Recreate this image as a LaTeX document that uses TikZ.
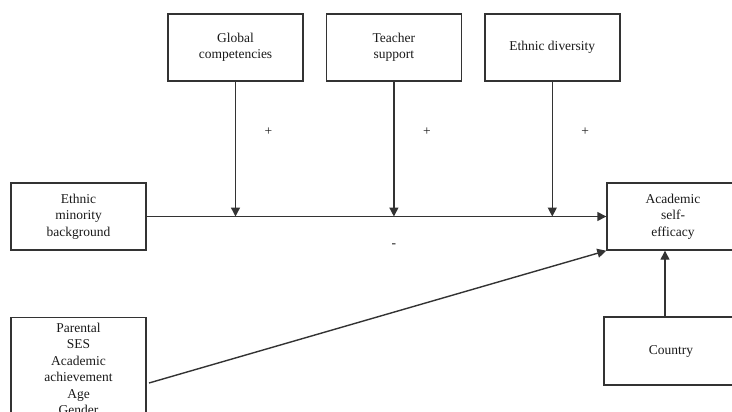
\documentclass[tikz,border=0pt]{standalone}
\usepackage{fontspec}
\setmainfont{Liberation Serif}
\usepackage{tikz}
\usetikzlibrary{arrows.meta,positioning,calc}
\definecolor{LineGray}{HTML}{333333}
\definecolor{TextDark}{HTML}{1a1a1a}

\begin{document}
\begin{tikzpicture}[x=1pt,y=1pt,
        varbox/.style={draw=LineGray,line width=1.4pt,
                     minimum width=135pt,minimum height=67pt,
                     text=TextDark,align=center,inner sep=2pt,
                     font=\fontsize{13.5}{16.5}\selectfont},
        link/.style={-{Triangle[length=9pt,width=9pt]},
                     draw=LineGray,line width=1.4pt},
        sign/.style={text=TextDark,inner sep=1pt,
                     font=\fontsize{13.5}{16.5}\selectfont}]
        \useasboundingbox (0,0) rectangle (732,-412);
        \clip (0,0) rectangle (732,-412);
        % moderators
        \node[varbox] (gc) at (235.5,-47.5) {Global\\competencies};
        \node[varbox,right=22pt of gc] (ts) {Teacher\\support};
        \node[varbox,right=22pt of ts] (ed) {Ethnic diversity};
        % main path
        \node[varbox] (emb) at (78.5,-216.5)
              {Ethnic\\minority\\background};
        \node[varbox,minimum width=132pt] (ase) at (673,-216.5)
              {Academic\\self-\\efficacy};
        % controls
        \node[varbox,anchor=north,inner ysep=5pt] (ctl) at (78.5,-317)
              {Parental\\SES\\Academic\\achievement\\Age\\Gender};
        \node[varbox,minimum width=134pt,minimum height=68pt] (cty)
              at (671,-351) {Country};
        \draw[link] (emb.east) -- (ase.west);
        \foreach \a in {gc,ts,ed}{
          \draw[link] (\a.south) -- (\a.south |- emb.east);
          \node[sign] (\a-sign) at ($(\a.south)+(33,-50)$) {+};
        }
        \node[sign] (neg) at ($(ts.south |- emb.east)+(0,-29)$) {-};
        \coordinate (ctl-out) at (149,-383);
        \draw[link] (ctl-out) -- (ase.south west);
        \draw[link] ([xshift=-6pt]cty.north) -- ([xshift=-6pt]cty.north |- ase.south);
      \end{tikzpicture}
\end{document}
